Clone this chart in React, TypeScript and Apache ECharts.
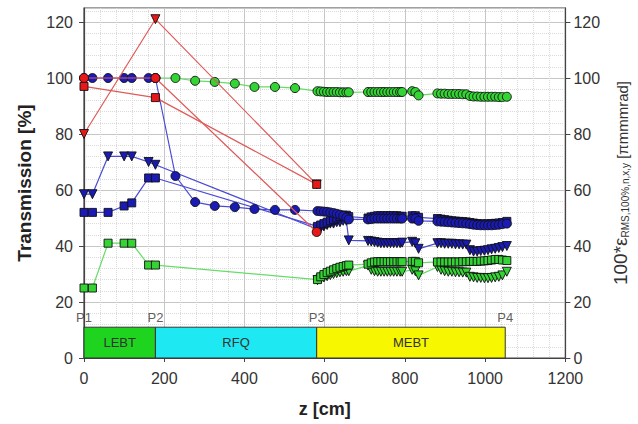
import React, { useEffect, useRef } from "react";
import * as echarts from "echarts";

// ---- positions along the linac (cm) ----
const lebtZ = [0, 21, 60, 100, 119, 161, 178];
const rfqZ = [228, 277, 326, 376, 425, 476, 526];
const mebtZ = [
  582, 590, 598, 606, 614, 622, 630, 638, 646, 654, 660,
  708, 716, 724, 732, 740, 748, 756, 764, 772, 780, 788, 793,
  818, 826, 834,
  881, 890, 899, 908, 917, 926, 935, 944, 953, 962, 971, 980, 989, 998, 1007, 1016, 1025, 1034, 1043, 1054,
];
const redZ = [0, 178, 580];

// ---- red series ----
const redCircle = [100, 100, 45];
const redSquare = [97, 93, 62];
const redTriangle = [80, 121, 62];

// ---- blue series ----
const blueCircleLebt = [100, 100, 100, 100, 100, 100, 100];
const blueCircleRfq = [65, 55.7, 54.3, 53.9, 53.2, 52.9, 52.9];
const blueCircleMebt = [
  52.5, 52.4, 52.3, 52.2, 52.0, 51.8, 51.5, 51.2, 50.8, 50.2, 49.5,
  49.5, 49.6, 49.8, 49.8, 49.8, 49.8, 49.8, 49.8, 49.8, 49.8, 49.8, 49.8,
  49.8, 49.8, 49.0,
  48.8, 48.7, 48.6, 48.5, 48.4, 48.3, 48.2, 48.1, 48.0, 47.8, 47.6, 47.5, 47.4, 47.4, 47.4, 47.4, 47.5, 47.6, 47.8, 48.0,
];
const blueSquareLebt = [52, 52, 52, 54.3, 55.4, 64.3, 64.3];
const blueSquareMebt = [
  47.0, 47.5, 48.0, 48.5, 49.0, 49.5, 50.0, 50.5, 51.0, 51.0, 50.5,
  50.0, 50.4, 50.6, 50.8, 50.8, 50.8, 50.8, 50.8, 50.8, 50.8, 50.6, 50.6,
  50.8, 50.8, 50.2,
  49.8, 49.6, 49.4, 49.2, 49.0, 48.9, 48.8, 48.7, 48.6, 48.4, 48.2, 48.0, 47.9, 47.9, 47.9, 48.0, 48.1, 48.2, 48.4, 48.8,
];
const blueTriangleLebt = [58.5, 58.5, 72, 72, 72, 70, 69];
const blueTriangleMebt = [
  46.0, 46.5, 47.0, 47.5, 48.0, 48.0, 48.5, 48.5, 49.0, 49.0, 42.0,
  41.8, 41.6, 41.4, 41.2, 41.0, 41.0, 41.0, 41.0, 41.0, 41.0, 41.0, 41.2,
  41.5, 41.0, 39.0,
  41.0, 41.0, 40.8, 40.8, 40.8, 40.6, 40.6, 40.5, 40.5, 38.5, 38.0, 38.0, 38.2, 38.3, 38.5, 38.8, 39.0, 39.3, 39.6, 40.0,
];

// ---- green series ----
const greenCircleStart = [100];
const greenCircleRfq = [100, 99, 98.6, 98, 96.8, 96.8, 96.4];
const greenCircleMebt = [
  95.3, 95.2, 95.1, 95.0, 95.0, 95.0, 95.0, 94.9, 94.9, 94.9, 94.9,
  95.0, 95.0, 95.0, 95.0, 95.0, 95.0, 95.0, 95.0, 95.0, 95.0, 95.0, 95.0,
  95.3, 95.0, 93.8,
  94.5, 94.4, 94.4, 94.3, 94.3, 94.3, 94.3, 94.2, 94.2, 93.6, 93.4, 93.4, 93.3, 93.3, 93.3, 93.3, 93.3, 93.2, 93.2, 93.3,
];
const greenSquareLebt = [25, 25, 41, 41, 41, 33.2, 33.2];
const greenSquareMebt = [
  28.0, 29.0, 29.8, 30.5, 31.0, 31.5, 32.0, 32.4, 32.7, 33.0, 33.2,
  33.5, 34.0, 34.3, 34.4, 34.4, 34.4, 34.4, 34.4, 34.4, 34.4, 34.4, 34.4,
  34.5, 34.5, 34.0,
  34.3, 34.3, 34.3, 34.3, 34.3, 34.3, 34.3, 34.4, 34.4, 34.5, 34.5, 34.5, 34.6, 34.7, 34.8, 35.0, 35.2, 35.2, 35.0, 34.8,
];
const greenTriangleMebt = [
  27.8, 28.3, 28.8, 29.2, 29.6, 30.0, 30.3, 30.6, 30.8, 31.0, 31.0,
  33.0, 31.5, 31.0, 30.8, 30.8, 30.8, 30.8, 30.8, 30.8, 30.8, 30.8, 30.8,
  31.5, 31.0, 29.5,
  32.5, 31.5, 31.0, 30.8, 30.8, 30.6, 30.6, 30.5, 30.5, 29.0, 28.8, 28.6, 28.6, 28.5, 28.5, 28.6, 28.8, 29.0, 29.5, 30.8,
];

// ---- sections and points ----
const sectionNames = ["LEBT", "RFQ", "MEBT"];
const sectionStart = [0, 178, 580];
const sectionEnd = [178, 580, 1050];
const sectionHeight = 11;
const pointNames = ["P1", "P2", "P3", "P4"];
const pointZ = [0, 178, 580, 1050];

const xTicks = { min: 0, max: 1200, interval: 200 };
const yTicks = { min: 0, max: 125, interval: 20 };

const sectionColors: Record<string, string> = {
  LEBT: "#1fd41f",
  RFQ: "#1ee8f2",
  MEBT: "#f7f700",
};

const zip = (zs: number[], vs: number[]) => zs.map((z, i) => [z, vs[i]]);

const FONT = "'Liberation Sans', Arial, sans-serif";
const plain = (v: number) => String(v);

export default function App() {
  const ref = useRef<HTMLDivElement>(null);
  useEffect(() => {
    if (!ref.current) return;
    const chart = echarts.init(ref.current, undefined, { renderer: "svg" });

    const mk = (
      name: string,
      data: number[][],
      fill: string,
      line: string,
      symbol: string,
      size: number,
      yAxisIndex: number,
      z: number,
      rotate = 0
    ) => ({
      name,
      type: "line",
      data,
      yAxisIndex,
      symbol,
      symbolSize: size,
      symbolRotate: rotate,
      showAllSymbol: true,
      z,
      lineStyle: { color: line, width: 1.2 },
      itemStyle: { color: fill, borderColor: "#111", borderWidth: 0.9 },
      emphasis: { disabled: true },
    });

    const option: any = {
      animation: false,
      backgroundColor: "#ffffff",
      textStyle: { fontFamily: FONT },
      grid: {
        left: 84,
        right: 68,
        top: 8,
        bottom: 66,
        show: true,
        borderColor: "#444",
        borderWidth: 1.2,
        backgroundColor: "transparent",
      },
      xAxis: {
        type: "value",
        min: xTicks.min,
        max: xTicks.max,
        interval: xTicks.interval,
        name: "z [cm]",
        nameLocation: "middle",
        nameGap: 42,
        nameTextStyle: { fontSize: 18, fontWeight: "bold", color: "#222", fontFamily: FONT },
        axisLine: { show: true, lineStyle: { color: "#444", width: 1.2 } },
        axisTick: { show: true, length: 4, lineStyle: { color: "#444" } },
        axisLabel: { fontSize: 16, color: "#333", margin: 12, fontFamily: FONT, formatter: plain },
        splitLine: { show: true, lineStyle: { color: "#c6c6c6", width: 1 } },
        minorTick: { show: false, splitNumber: 5 },
        minorSplitLine: { show: true, lineStyle: { color: "#dadada", type: "dotted", width: 1 } },
      },
      yAxis: [
        {
          type: "value",
          position: "left",
          min: yTicks.min,
          max: yTicks.max,
          interval: yTicks.interval,
          name: "Transmission [%]",
          nameLocation: "middle",
          nameGap: 50,
          nameTextStyle: { fontSize: 19, fontWeight: "bold", color: "#222", fontFamily: FONT },
          axisLine: { show: true, lineStyle: { color: "#444", width: 1.2 } },
          axisTick: { show: true, length: 5, lineStyle: { color: "#444" } },
          axisLabel: { fontSize: 16, color: "#333", margin: 11, showMaxLabel: false, fontFamily: FONT, formatter: plain },
          splitLine: { show: true, lineStyle: { color: "#c6c6c6", width: 1 } },
          minorTick: { show: false, splitNumber: 5 },
          minorSplitLine: { show: true, lineStyle: { color: "#dadada", type: "dotted", width: 1 } },
        },
        {
          type: "value",
          position: "right",
          min: yTicks.min,
          max: yTicks.max,
          interval: yTicks.interval,
          name: "{a|100*ε}{b|RMS,100%,n,x,y}{c| [πmmmrad]}",
          nameLocation: "middle",
          nameGap: 40,
          nameRotate: 90,
          nameTextStyle: {
            color: "#333",
            fontFamily: FONT,
            rich: {
              a: { fontSize: 19, color: "#333", fontFamily: FONT, lineHeight: 22, verticalAlign: "bottom" },
              b: { fontSize: 10, color: "#333", fontFamily: FONT, lineHeight: 4, verticalAlign: "bottom" },
              c: { fontSize: 15, color: "#333", fontFamily: FONT, lineHeight: 22, verticalAlign: "bottom" },
            },
          },
          axisLine: { show: true, lineStyle: { color: "#444", width: 1.2 } },
          axisTick: { show: true, length: 5, lineStyle: { color: "#444" } },
          axisLabel: { fontSize: 16, color: "#333", margin: 8, showMaxLabel: false, fontFamily: FONT, formatter: plain },
          splitLine: { show: false },
        },
      ],
      series: [
        {
          name: "points",
          type: "scatter",
          data: pointNames.map((n, i) => ({ name: n, value: [pointZ[i], 14.6] })),
          symbolSize: 1,
          itemStyle: { color: "rgba(0,0,0,0)" },
          z: 3,
          label: {
            show: true,
            formatter: "{b}",
            position: "inside",
            fontSize: 13,
            color: "#333",
            fontFamily: FONT,
          },
          emphasis: { disabled: true },
          markArea: {
            silent: true,
            itemStyle: { borderColor: "#333", borderWidth: 1, opacity: 1 },
            label: { show: true, position: "inside", fontSize: 13, color: "#333", fontFamily: FONT },
            data: sectionNames.map((n, i) => [
              { name: n, xAxis: sectionStart[i], yAxis: 0, itemStyle: { color: sectionColors[n] } },
              { xAxis: sectionEnd[i], yAxis: sectionHeight },
            ]),
          },
        },
        mk("green triangle", zip(mebtZ, greenTriangleMebt), "#34d434", "#66dd66", "triangle", 9, 1, 4, 180),
        mk("green square", [...zip(lebtZ, greenSquareLebt), ...zip(mebtZ, greenSquareMebt)], "#34d434", "#66dd66", "rect", 8, 1, 5),
        mk("green circle", [...zip([178], greenCircleStart), ...zip(rfqZ, greenCircleRfq), ...zip(mebtZ, greenCircleMebt)], "#34d434", "#66dd66", "circle", 9, 0, 6),
        mk("blue triangle", [...zip(lebtZ, blueTriangleLebt), ...zip(mebtZ, blueTriangleMebt)], "#1a1ab4", "#4a4ad6", "triangle", 9, 1, 7, 180),
        mk("blue square", [...zip(lebtZ, blueSquareLebt), ...zip(mebtZ, blueSquareMebt)], "#1a1ab4", "#4a4ad6", "rect", 8, 1, 8),
        mk("blue circle", [...zip(lebtZ, blueCircleLebt), ...zip(rfqZ, blueCircleRfq), ...zip(mebtZ, blueCircleMebt)], "#1a1ab4", "#4a4ad6", "circle", 9, 0, 9),
        mk("red triangle", zip(redZ, redTriangle), "#e81818", "#e05a5a", "triangle", 9, 1, 10, 180),
        mk("red square", zip(redZ, redSquare), "#e81818", "#e05a5a", "rect", 8, 1, 11),
        mk("red circle", zip(redZ, redCircle), "#e81818", "#e05a5a", "circle", 9, 0, 12),
      ],
    };
    chart.setOption(option);
    return () => chart.dispose();
  }, []);
  return (
    <div
      ref={ref}
      style={{ position: "fixed", left: 0, top: 0, width: 638, height: 424, background: "#fff" }}
    />
  );
}
